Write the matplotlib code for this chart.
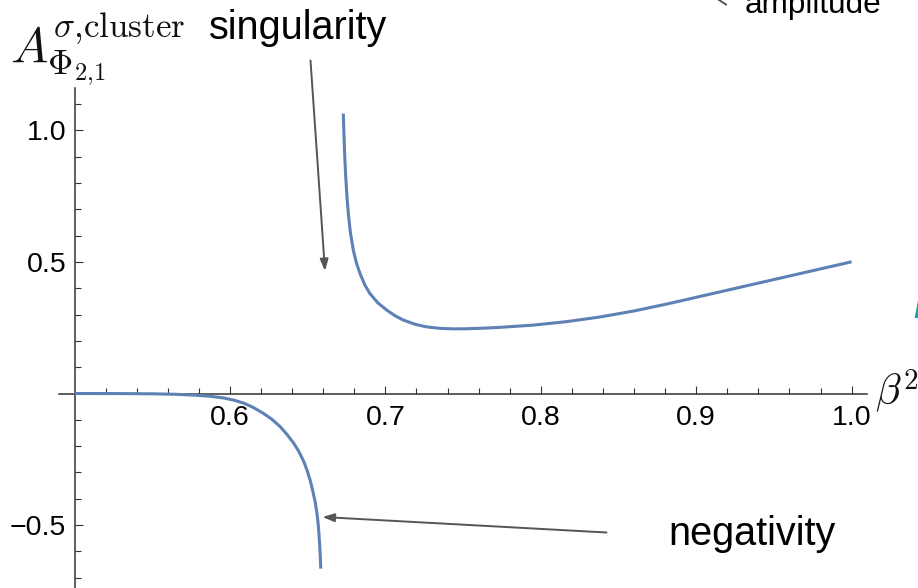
import matplotlib
matplotlib.use("Agg")
import matplotlib.pyplot as plt
from matplotlib.lines import Line2D
from matplotlib.ticker import FixedLocator, FixedFormatter

# ---- data ----
neg_beta2 = [0.500, 0.530, 0.550, 0.565, 0.578, 0.588, 0.596, 0.603, 0.609, 0.615,
             0.6216, 0.627, 0.6323, 0.6366, 0.6409, 0.6441, 0.6473, 0.6495, 0.6516,
             0.6532, 0.6548, 0.6559, 0.6566, 0.6572, 0.6577, 0.6581, 0.6584]
neg_amp = [0.0, -0.0003, -0.0012, -0.003, -0.0065, -0.011, -0.017, -0.026, -0.037, -0.053,
           -0.076, -0.098, -0.126, -0.155, -0.188, -0.218, -0.256, -0.290, -0.330,
           -0.368, -0.412, -0.452, -0.488, -0.530, -0.575, -0.620, -0.665]

pos_beta2 = [0.6729, 0.6733, 0.6738, 0.6745, 0.6753, 0.6762, 0.6775, 0.6794, 0.6815,
             0.6837, 0.6868, 0.6900, 0.6950, 0.7008, 0.7060, 0.7115, 0.7190, 0.7265,
             0.7350, 0.7436, 0.7520, 0.7630, 0.7737, 0.7950, 0.8166, 0.8380, 0.8595,
             0.8810, 0.9025, 0.9240, 0.9452, 0.9720, 1.0000]
pos_amp = [1.063, 0.990, 0.905, 0.820, 0.745, 0.680, 0.610, 0.543, 0.493,
           0.455, 0.412, 0.380, 0.345, 0.317, 0.296, 0.279, 0.263, 0.253,
           0.2475, 0.2455, 0.2458, 0.2482, 0.2512, 0.2596, 0.2729, 0.2906, 0.3129,
           0.3397, 0.3687, 0.3977, 0.4263, 0.4625, 0.5003]

x_major = [0.6, 0.7, 0.8, 0.9, 1.0]
x_major_labels = ["0.6", "0.7", "0.8", "0.9", "1.0"]
x_minor = [0.52, 0.54, 0.56, 0.58, 0.62, 0.64, 0.66, 0.68, 0.72, 0.74, 0.76, 0.78,
           0.82, 0.84, 0.86, 0.88, 0.92, 0.94, 0.96, 0.98]
y_major = [-0.5, 0.5, 1.0]
y_major_labels = ["\u22120.5", "0.5", "1.0"]
y_minor = [-0.7, -0.6, -0.4, -0.3, -0.2, -0.1, 0.1, 0.2, 0.3, 0.4, 0.6, 0.7, 0.8, 0.9, 1.1]

# ---- layout helpers (pixel -> data) ----
W, H = 918, 588
X0, SX = 74.6, 1554.0
Y0, SY = 393.5, 263.3

def px(x):
    return 0.5 + (x - X0) / SX

def py(y):
    return (Y0 - y) / SY

plt.rcParams['font.family'] = ['Liberation Sans', 'DejaVu Sans']
plt.rcParams['mathtext.fontset'] = 'cm'

fig = plt.figure(figsize=(W / 100, H / 100), dpi=100)
ax = fig.add_axes([0, 0, 1, 1])
ax.set_xlim(px(0), px(W))
ax.set_ylim(py(H), py(0))

curve_color = '#5E81B5'
ax.plot(neg_beta2, neg_amp, color=curve_color, lw=2.2, solid_capstyle='butt',
        solid_joinstyle='round', zorder=3)
ax.plot(pos_beta2, pos_amp, color=curve_color, lw=2.2, solid_capstyle='butt',
        solid_joinstyle='round', zorder=3)

axis_color = '#333333'
for s in ['top', 'right']:
    ax.spines[s].set_visible(False)
ax.spines['left'].set_position(('data', 0.5))
ax.spines['bottom'].set_position(('data', 0.0))
ax.spines['left'].set_bounds(py(H + 5), 1.16)
ax.spines['bottom'].set_bounds(0.49, 1.0096)
for s in ['left', 'bottom']:
    ax.spines[s].set_color(axis_color)
    ax.spines[s].set_linewidth(1.1)

ax.xaxis.set_major_locator(FixedLocator(x_major))
ax.xaxis.set_major_formatter(FixedFormatter(x_major_labels))
ax.xaxis.set_minor_locator(FixedLocator(x_minor))
ax.yaxis.set_major_locator(FixedLocator(y_major))
ax.yaxis.set_major_formatter(FixedFormatter(y_major_labels))
ax.yaxis.set_minor_locator(FixedLocator(y_minor))

ax.tick_params(which='both', direction='in', color=axis_color, width=0.8)
ax.tick_params(which='major', length=6.0)
ax.tick_params(which='minor', length=4.2)
ax.tick_params(axis='x', which='major', pad=8, labelsize=20.5)
ax.tick_params(axis='y', which='major', pad=6, labelsize=20.5)

# axis labels
ax.text(px(10), py(62), r'$A^{\sigma{,}\mathrm{cluster}}_{\Phi_{2{,}1}}$', fontsize=36,
        ha='left', va='baseline', color='#111111')
ax.text(px(875), py(405), r'$\beta^{2}$', fontsize=30, ha='left', va='baseline',
        color='#111111', clip_on=False)

# annotations
arrow_color = '#555555'
ax.text(px(209), py(39), 'singularity', fontsize=28.5, ha='left', va='baseline', color='black')
ax.annotate('', xy=(px(325), py(271)), xytext=(px(310.5), py(60.5)),
            arrowprops=dict(arrowstyle='-|>,head_length=0.7,head_width=0.25',
                            color=arrow_color, lw=1.4, shrinkA=0, shrinkB=0))
ax.text(px(668), py(545), 'negativity', fontsize=28.5, ha='left', va='baseline', color='black')
ax.annotate('', xy=(px(322.5), py(517)), xytext=(px(606.5), py(532.5)),
            arrowprops=dict(arrowstyle='-|>,head_length=0.7,head_width=0.25',
                            color=arrow_color, lw=1.4, shrinkA=0, shrinkB=0))

# partially visible elements at the edges of the crop (cut off in the reference too)
ax.text(px(745), py(13), 'amplitude', fontsize=22.7, ha='left', va='baseline', color='black')
fig.add_artist(Line2D([719 / W, 726 / W], [1 - 0 / H, 1 - 4.5 / H], color=arrow_color, lw=1.4))
ax.text(px(913), py(318), 'n', fontsize=28, fontstyle='italic', ha='left', va='baseline',
        color='#1aa0b2')

fig.savefig('out.png', dpi=100)
